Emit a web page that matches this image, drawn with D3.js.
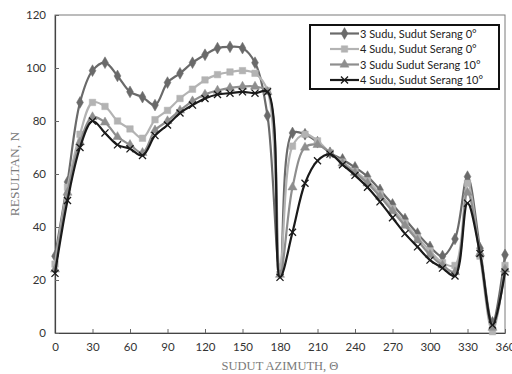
<!DOCTYPE html>
<html>
<head>
<meta charset="utf-8">
<script src="https://cdn.jsdelivr.net/npm/d3@7"></script>
<style>
html,body{margin:0;padding:0;background:#fff;}
svg{display:block;}
</style>
</head>
<body>
<svg id="chart" width="512" height="374"></svg>
<script>
const angles = d3.range(0, 361, 10);
const xTicks = [0,30,60,90,120,150,180,210,240,270,300,330,360];
const yTicks = [0,20,40,60,80,100,120];
const seriesNames = ["3 Sudu, Sudut Serang 0°","4 Sudu, Sudut Serang 0°","3 Sudu Sudut Serang 10°","4 Sudu, Sudut Serang 10°"];
const s3sudu0 = [29,57,87,99,102,97,91,89,86,94.5,98,102,105,107.5,108,107.5,102,82,23,75.5,75,72,68,65.5,62.5,59,54,48.5,43,37.5,32.5,29,35.5,59,32,4,29.5];
const s4sudu0 = [26,55,75,87,85.5,80,77,73.5,80.5,84,88.5,92,95.5,97.5,98.5,99,98,91.5,25,70.5,75,72.5,68,64.5,61,57.5,52.5,47,41.5,36,31,26.5,25.5,56.5,29,0.5,25.5];
const s3sudu10 = [24,53,72,81.5,79.5,74,71,68,76.5,80,84,87.5,90,91.5,92.5,93,93,91,22,55,70,71,68,64,60.5,56.5,51.5,46,40.5,35,29.5,25.5,23,53,30,2,24];
const s4sudu10 = [22.5,50,70,80,75.5,71,69.5,67,74.5,78.5,83,86,88.5,90,90.5,91,90.5,91,21,38,56.5,65,67.5,63.5,59.5,55,49.5,43.5,37.5,32.5,27.5,24.5,21.5,49,30,3,23];

const styles = [
  {color:"#6a6a6a", sym:d3.symbolDiamond, size:40, width:2.2},
  {color:"#b3b3b3", sym:d3.symbolSquare, size:42, width:2.2},
  {color:"#8e8e8e", sym:d3.symbolTriangle, size:36, width:2.2},
  {color:"#1a1a1a", sym:d3.symbolX, size:34, width:2.2}
];
const allSeries = [s3sudu0, s4sudu0, s3sudu10, s4sudu10];

const svg = d3.select("#chart");
const L=55, R=505, T=15, B=333;
const x = d3.scaleLinear().domain([0,360]).range([L,R]);
const y = d3.scaleLinear().domain([0,120]).range([B,T]);

// plot frame
svg.append("rect").attr("x",L).attr("y",T).attr("width",R-L).attr("height",B-T)
  .attr("fill","none").attr("stroke","#7a7a7a").attr("stroke-width",1);

const fontTick = "Lato, 'Liberation Sans', sans-serif";
const xAxis = svg.append("g").attr("transform",`translate(0,${B})`)
  .call(d3.axisBottom(x).tickValues(xTicks).tickSizeInner(-4).tickSizeOuter(0).tickPadding(10));
const yAxis = svg.append("g").attr("transform",`translate(${L},0)`)
  .call(d3.axisLeft(y).tickValues(yTicks).tickSizeInner(-4).tickSizeOuter(0).tickPadding(9));
[xAxis,yAxis].forEach(g=>{
  g.select(".domain").attr("stroke","#444").attr("stroke-width",1.2);
  g.selectAll(".tick line").attr("stroke","#666");
  g.selectAll("text").attr("font-family",fontTick).attr("font-size",11.5).attr("fill","#333");
});

svg.append("text").attr("x",(L+R)/2).attr("y",370).attr("text-anchor","middle")
  .attr("font-family","'Liberation Serif', serif").attr("font-size",12.5).attr("fill","#7a7a7a")
  .text("SUDUT AZIMUTH, Θ");
svg.append("text").attr("transform",`translate(19,${(T+B)/2}) rotate(-90)`).attr("text-anchor","middle")
  .attr("font-family","'Liberation Serif', serif").attr("font-size",13.5).attr("fill","#7a7a7a")
  .text("RESULTAN, N");

const line = d3.line().x((d,i)=>x(angles[i])).y(d=>y(d)).curve(d3.curveCatmullRom.alpha(0.5));
allSeries.forEach((vals,k)=>{
  const st = styles[k];
  const g = svg.append("g");
  g.append("path").datum(vals).attr("d",line).attr("fill","none")
    .attr("stroke",st.color).attr("stroke-width",st.width);
  g.selectAll("path.m").data(vals).join("path").attr("class","m")
    .attr("transform",(d,i)=>`translate(${x(angles[i])},${y(d)})`)
    .attr("d",d3.symbol().type(st.sym).size(st.size))
    .attr("fill",k===3?"none":st.color)
    .attr("stroke",st.color).attr("stroke-width",k===3?1.3:0.5);
});

// legend
const lg = svg.append("g");
lg.append("rect").attr("x",310).attr("y",25).attr("width",189).attr("height",64)
  .attr("fill","#fff").attr("stroke","#111").attr("stroke-width",2);
const rows=[33.5,49,64.5,80];
seriesNames.forEach((name,k)=>{
  const st=styles[k], ry=rows[k];
  lg.append("line").attr("x1",330).attr("x2",359).attr("y1",ry).attr("y2",ry)
    .attr("stroke",st.color).attr("stroke-width",st.width);
  lg.append("path").attr("transform",`translate(344.5,${ry})`)
    .attr("d",d3.symbol().type(st.sym).size(st.size))
    .attr("fill",k===3?"none":st.color).attr("stroke",st.color).attr("stroke-width",k===3?1.3:0.5);
  lg.append("text").attr("x",360).attr("y",ry+4).attr("font-family",fontTick)
    .attr("font-size",11).attr("fill","#222").text(name);
});
</script>
</body>
</html>
